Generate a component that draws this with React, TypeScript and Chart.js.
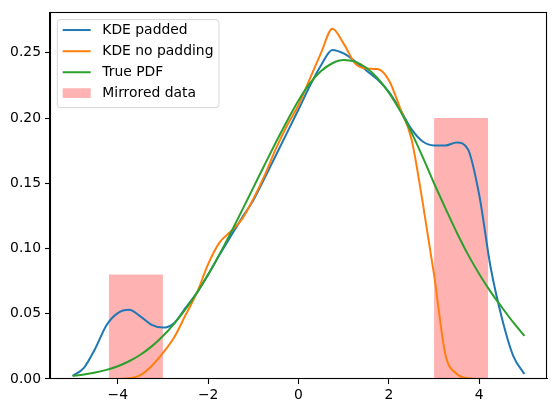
import React, { useEffect, useRef } from "react";
import { Chart, registerables } from "chart.js";

Chart.register(...registerables);

const xs = [
  -5, -4.75, -4.5, -4.25, -4, -3.75, -3.5, -3.25, -3, -2.75, -2.5, -2.25, -2, -1.75,
  -1.5, -1.25, -1, -0.75, -0.5, -0.25, 0, 0.25, 0.5, 0.75, 1, 1.25, 1.5, 1.75, 2,
  2.25, 2.5, 2.75, 3, 3.25, 3.5, 3.75, 4, 4.25, 4.5, 4.75, 5,
];

const kdePadded = [
  0.0023, 0.0085, 0.0232, 0.0412, 0.0505, 0.053, 0.048, 0.0415, 0.0394, 0.043, 0.0545,
  0.066, 0.080, 0.095, 0.1095, 0.1235, 0.137, 0.154, 0.1715, 0.189, 0.2065, 0.2245,
  0.2405, 0.2522, 0.2495, 0.2435, 0.2365, 0.2295, 0.22, 0.2065, 0.1915, 0.182, 0.179,
  0.179, 0.1812, 0.176, 0.141, 0.086, 0.047, 0.018, 0.0038,
];

const kdeNoPadding = [
  0, 0, 0, 0, 0, 0.0005, 0.003, 0.010, 0.020, 0.032, 0.049, 0.066, 0.088, 0.1045,
  0.113, 0.1225, 0.138, 0.156, 0.1765, 0.1945, 0.210, 0.230, 0.250, 0.2685, 0.257,
  0.242, 0.238, 0.2375, 0.229, 0.2075, 0.184, 0.135, 0.080, 0.019, 0.004, 0.0005, 0,
  0, 0, 0, 0,
];

const truePdf = [
  0.0024, 0.0035, 0.005, 0.007, 0.0098, 0.0136, 0.0186, 0.025, 0.033, 0.0425, 0.0535,
  0.066, 0.080, 0.0955, 0.112, 0.1292, 0.1467, 0.1642, 0.1814, 0.1979, 0.2134, 0.2265,
  0.236, 0.242, 0.2444, 0.2432, 0.2385, 0.2305, 0.2195, 0.2055, 0.189, 0.170, 0.150,
  0.131, 0.1125, 0.0955, 0.0805, 0.067, 0.055, 0.0435, 0.033,
];

const barEdges = [
  [-4.2, -3.0],
  [3.0, 4.2],
];
const barHeights = [0.08, 0.2];

const xTicks = [-4, -2, 0, 2, 4];
const yTicks = [0, 0.05, 0.1, 0.15, 0.2, 0.25];

const legendLabels = ["KDE padded", "KDE no padding", "True PDF", "Mirrored data"];
const lineColors = ["#1f77b4", "#ff7f0e", "#2ca02c"];
const barColor = "rgba(255,0,0,0.3)";

const FONT = "DejaVu Sans";
const FONT_SIZE = 13.9;

const framePlugin = {
  id: "mplFrame",
  afterDraw(chart: any) {
    const { ctx, chartArea } = chart;
    ctx.save();
    ctx.strokeStyle = "#000";
    ctx.lineWidth = 1.1;
    const l = Math.round(chartArea.left) + 0.5;
    const t = Math.round(chartArea.top) + 0.5;
    const r = Math.round(chartArea.right) - 0.5;
    const b = Math.round(chartArea.bottom) - 0.5;
    ctx.strokeRect(l, t, r - l, b - t);
    ctx.restore();
  },
};

const legendPlugin = {
  id: "mplLegend",
  afterDraw(chart: any) {
    const { ctx, chartArea } = chart;
    const x0 = chartArea.left + 7.3;
    const y0 = chartArea.top + 7.3;
    const w = 161.7;
    const h = 88;
    ctx.save();
    ctx.beginPath();
    ctx.roundRect(x0, y0, w, h, 3);
    ctx.fillStyle = "rgba(255,255,255,0.8)";
    ctx.fill();
    ctx.lineWidth = 1;
    ctx.strokeStyle = "rgba(204,204,204,0.8)";
    ctx.stroke();
    const rowY = [10.4, 31.6, 52.6, 73.4];
    ctx.font = `${FONT_SIZE}px "${FONT}"`;
    ctx.textBaseline = "middle";
    ctx.textAlign = "left";
    legendLabels.forEach((label, i) => {
      const cy = y0 + rowY[i];
      if (i < 3) {
        ctx.beginPath();
        ctx.strokeStyle = lineColors[i];
        ctx.lineWidth = 2;
        ctx.moveTo(x0 + 5.4, cy);
        ctx.lineTo(x0 + 33.4, cy);
        ctx.stroke();
      } else {
        ctx.fillStyle = barColor;
        ctx.fillRect(x0 + 5.4, cy - 4.8, 28, 9.7);
      }
      ctx.fillStyle = "#000";
      ctx.fillText(label, x0 + 45, cy + 0.5);
    });
    ctx.restore();
  },
};

export default function App() {
  const ref = useRef<HTMLCanvasElement | null>(null);

  useEffect(() => {
    if (!ref.current) return;
    Chart.defaults.font.family = FONT;
    Chart.defaults.font.size = FONT_SIZE;
    Chart.defaults.color = "#000";

    const lineSeries = [truePdf, kdeNoPadding, kdePadded];
    const lineColorOrder = [lineColors[2], lineColors[1], lineColors[0]];
    const lineNames = [legendLabels[2], legendLabels[1], legendLabels[0]];

    const datasets: any[] = lineSeries.map((arr, k) => ({
      label: lineNames[k],
      data: xs.map((x, i) => ({ x, y: arr[i] })),
      borderColor: lineColorOrder[k],
      borderWidth: 2,
      pointRadius: 0,
      cubicInterpolationMode: "monotone",
      fill: false,
    }));

    barEdges.forEach((edges, i) => {
      datasets.push({
        label: legendLabels[3],
        data: [
          { x: edges[0], y: barHeights[i] },
          { x: edges[1], y: barHeights[i] },
        ],
        borderWidth: 0,
        borderColor: "rgba(0,0,0,0)",
        backgroundColor: barColor,
        pointRadius: 0,
        fill: "origin",
        tension: 0,
      });
    });

    const chart = new Chart(ref.current, {
      type: "line",
      data: { datasets },
      options: {
        animation: false,
        responsive: false,
        devicePixelRatio: 1,
        layout: { padding: { left: 0, right: 9, top: 10, bottom: 0 } },
        plugins: {
          legend: { display: false },
          tooltip: { enabled: false },
        },
        scales: {
          x: {
            type: "linear",
            min: -5.5,
            max: 5.5,
            afterBuildTicks: (scale: any) => {
              scale.ticks = xTicks.map((v) => ({ value: v }));
            },
            afterFit: (scale: any) => {
              scale.height = 34;
            },
            ticks: {
              padding: 3,
              maxRotation: 0,
              autoSkip: false,
              color: "#000",
              callback: (v: any) => String(v).replace("-", "\u2212"),
            },
            grid: {
              drawOnChartArea: false,
              drawTicks: true,
              tickLength: 5,
              color: "#000",
              tickWidth: 1.1,
            },
            border: { display: true, color: "#000", width: 1.1 },
          },
          y: {
            type: "linear",
            min: 0,
            max: 0.281,
            afterBuildTicks: (scale: any) => {
              scale.ticks = yTicks.map((v) => ({ value: v }));
            },
            afterFit: (scale: any) => {
              scale.width = 50;
            },
            ticks: {
              padding: 4,
              autoSkip: false,
              color: "#000",
              callback: (v: any) => Number(v).toFixed(2),
            },
            grid: {
              drawOnChartArea: false,
              drawTicks: true,
              tickLength: 5,
              color: "#000",
              tickWidth: 1.1,
            },
            border: { display: true, color: "#000", width: 1.1 },
          },
        },
      },
      plugins: [framePlugin, legendPlugin],
    });
    return () => chart.destroy();
  }, []);

  return (
    <div style={{ position: "fixed", left: 0, top: 0, width: 556, height: 413, background: "#fff" }}>
      <canvas ref={ref} width={556} height={413} />
    </div>
  );
}
